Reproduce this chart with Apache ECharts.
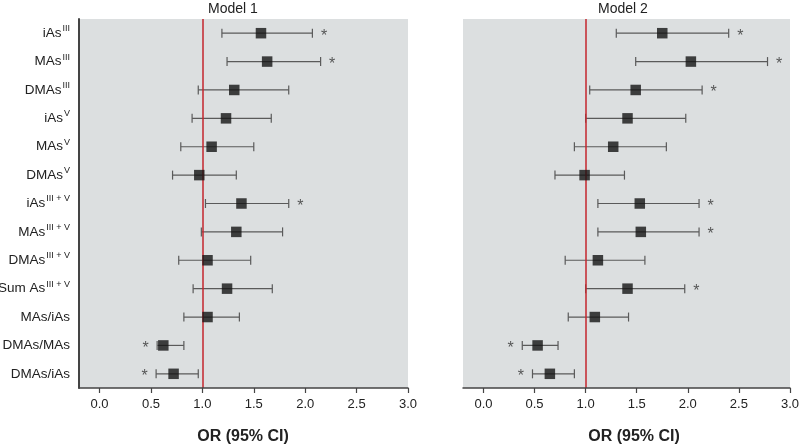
<!DOCTYPE html>
<html>
<head>
<meta charset="utf-8">
<script src="https://cdn.jsdelivr.net/npm/echarts@6/dist/echarts.min.js"></script>
<style>html,body{margin:0;padding:0;background:#fff;}#c{width:800px;height:447px;}</style>
</head>
<body>
<div id="c"></div>
<script>
// ---- data ----
var catBase = ['iAs','MAs','DMAs','iAs','MAs','DMAs','iAs','MAs','DMAs','Sum As','MAs/iAs','DMAs/MAs','DMAs/iAs'];
var catSup  = ['III','III','III','V','V','V','III + V','III + V','III + V','III + V','','',''];
var xTicks = [0, 0.5, 1.0, 1.5, 2.0, 2.5, 3.0];
var panelTitles = ['Model 1', 'Model 2'];
var axisTitle = 'OR (95% CI)';
var refValue = 1.0;

var m1OR    = [1.57, 1.63, 1.31, 1.23, 1.09, 0.97, 1.38, 1.33, 1.05, 1.24, 1.05, 0.62, 0.72];
var m1Lower = [1.19, 1.24, 0.96, 0.90, 0.79, 0.71, 1.03, 0.99, 0.77, 0.91, 0.82, 0.56, 0.55];
var m1Upper = [2.07, 2.15, 1.84, 1.67, 1.50, 1.33, 1.84, 1.78, 1.47, 1.68, 1.36, 0.82, 0.96];
var m1Sig   = [1, 1, 0, 0, 0, 0, 1, 0, 0, 0, 0, 1, 1];

var m2OR    = [1.75, 2.03, 1.49, 1.41, 1.27, 0.99, 1.53, 1.54, 1.12, 1.41, 1.09, 0.53, 0.65];
var m2Lower = [1.30, 1.49, 1.04, 1.00, 0.89, 0.70, 1.12, 1.12, 0.80, 1.00, 0.83, 0.38, 0.48];
var m2Upper = [2.40, 2.78, 2.14, 1.98, 1.79, 1.38, 2.11, 2.11, 1.58, 1.97, 1.42, 0.73, 0.89];
var m2Sig   = [1, 1, 1, 0, 0, 0, 1, 1, 0, 1, 0, 1, 1];

// ---- build ----
var FONT = '"Liberation Sans", Arial, sans-serif';
var categories = catBase.map(function (b, i) { return b + '|' + catSup[i]; });

function ciData(lo, hi) { return lo.map(function (l, i) { return [i, l, hi[i]]; }); }
function ptData(or) { return or.map(function (v, i) { return [v, i]; }); }
function starData(or, lo, hi, sig) {
  var out = [];
  sig.forEach(function (s, i) {
    if (!s) return;
    if (or[i] < 1) out.push({ value: [lo[i], i], label: { position: 'left', distance: 8 } });
    else out.push({ value: [hi[i], i], label: { position: 'right', distance: 8 } });
  });
  return out;
}

function renderCI(params, api) {
  var y = api.value(0);
  var p1 = api.coord([api.value(1), y]);
  var p2 = api.coord([api.value(2), y]);
  var st = { stroke: '#5a5a5a', lineWidth: 1.2 };
  var cap = 4.5;
  return {
    type: 'group',
    children: [
      { type: 'line', shape: { x1: p1[0], y1: p1[1], x2: p2[0], y2: p2[1] }, style: st },
      { type: 'line', shape: { x1: p1[0], y1: p1[1] - cap, x2: p1[0], y2: p1[1] + cap }, style: st },
      { type: 'line', shape: { x1: p2[0], y1: p2[1] - cap, x2: p2[0], y2: p2[1] + cap }, style: st }
    ]
  };
}

var grids = [
  { left: 79, top: 19, width: 329, height: 369, show: true, backgroundColor: '#dcdfe0', borderWidth: 0, containLabel: false, outerBoundsMode: 'none', z: 0 },
  { left: 463, top: 19, width: 327, height: 369, show: true, backgroundColor: '#dcdfe0', borderWidth: 0, containLabel: false, outerBoundsMode: 'none', z: 0 }
];

function xAx(gi) {
  return {
    type: 'value', gridIndex: gi, min: -0.2, max: 3.0, position: 'bottom', z: 6,
    splitLine: { show: false },
    axisLine: { show: true, onZero: false, lineStyle: { color: '#444', width: 1.5 } },
    axisTick: { show: true, length: 5, customValues: xTicks, lineStyle: { color: '#444', width: 1.2 } },
    axisLabel: { customValues: xTicks, color: '#222', fontSize: 13, fontFamily: FONT, margin: 10,
      formatter: function (v) { return v.toFixed(1); } }
  };
}
function yAx(gi, showLabels) {
  return {
    type: 'category', gridIndex: gi, data: categories, inverse: true, position: 'left', z: 6,
    axisLine: { show: showLabels, onZero: false, lineStyle: { color: '#444', width: 2 } },
    axisTick: { show: false },
    splitLine: { show: false },
    axisLabel: {
      show: showLabels, margin: 9, fontFamily: FONT, color: '#222',
      formatter: function (v) {
        var p = v.split('|');
        return '{b|' + p[0] + '}' + (p[1] ? '{s|' + p[1] + '}' : '');
      },
      rich: {
        b: { fontSize: 13.5, fontFamily: FONT, color: '#222', lineHeight: 18 },
        s: { fontSize: 9, fontFamily: FONT, color: '#222', lineHeight: 10, verticalAlign: 'top', padding: [0, 0, 8, 1] }
      }
    }
  };
}

var models = [
  { or: m1OR, lo: m1Lower, hi: m1Upper, sig: m1Sig },
  { or: m2OR, lo: m2Lower, hi: m2Upper, sig: m2Sig }
];
var series = [];
models.forEach(function (m, gi) {
  series.push({
    type: 'custom', xAxisIndex: gi, yAxisIndex: gi, renderItem: renderCI,
    encode: { x: [1, 2], y: 0 }, data: ciData(m.lo, m.hi), z: 2, silent: true
  });
  series.push({
    type: 'scatter', xAxisIndex: gi, yAxisIndex: gi, symbol: 'rect', symbolSize: 10.5,
    itemStyle: { color: '#141414' }, data: ptData(m.or), z: 4, silent: true,
    markLine: {
      silent: true, symbol: 'none', label: { show: false }, animation: false, z: 3,
      lineStyle: { color: '#c4262e', width: 1.5, type: 'solid' },
      data: [{ xAxis: refValue }]
    }
  });
  series.push({
    type: 'scatter', xAxisIndex: gi, yAxisIndex: gi, symbolSize: 1,
    itemStyle: { color: 'rgba(0,0,0,0)' },
    silent: true, data: starData(m.or, m.lo, m.hi, m.sig), z: 5,
    label: { show: true, formatter: '*', fontSize: 16, color: '#333', fontFamily: FONT, offset: [0, 3] }
  });
});

var graphics = [
  { type: 'text', x: 233, y: 9, style: { text: panelTitles[0], fontSize: 14, fontFamily: FONT, fill: '#222', align: 'center', verticalAlign: 'middle' } },
  { type: 'text', x: 623, y: 9, style: { text: panelTitles[1], fontSize: 14, fontFamily: FONT, fill: '#222', align: 'center', verticalAlign: 'middle' } },
  { type: 'text', x: 243, y: 437, style: { text: axisTitle, fontSize: 16, fontWeight: 'bold', fontFamily: FONT, fill: '#222', align: 'center', verticalAlign: 'middle' } },
  { type: 'text', x: 634, y: 437, style: { text: axisTitle, fontSize: 16, fontWeight: 'bold', fontFamily: FONT, fill: '#222', align: 'center', verticalAlign: 'middle' } }
];

var chart = echarts.init(document.getElementById('c'), null, { renderer: 'canvas' });
chart.setOption({
  animation: false,
  backgroundColor: '#ffffff',
  grid: grids,
  xAxis: [xAx(0), xAx(1)],
  yAxis: [yAx(0, true), yAx(1, false)],
  series: series,
  graphic: graphics
});
</script>
</body>
</html>
